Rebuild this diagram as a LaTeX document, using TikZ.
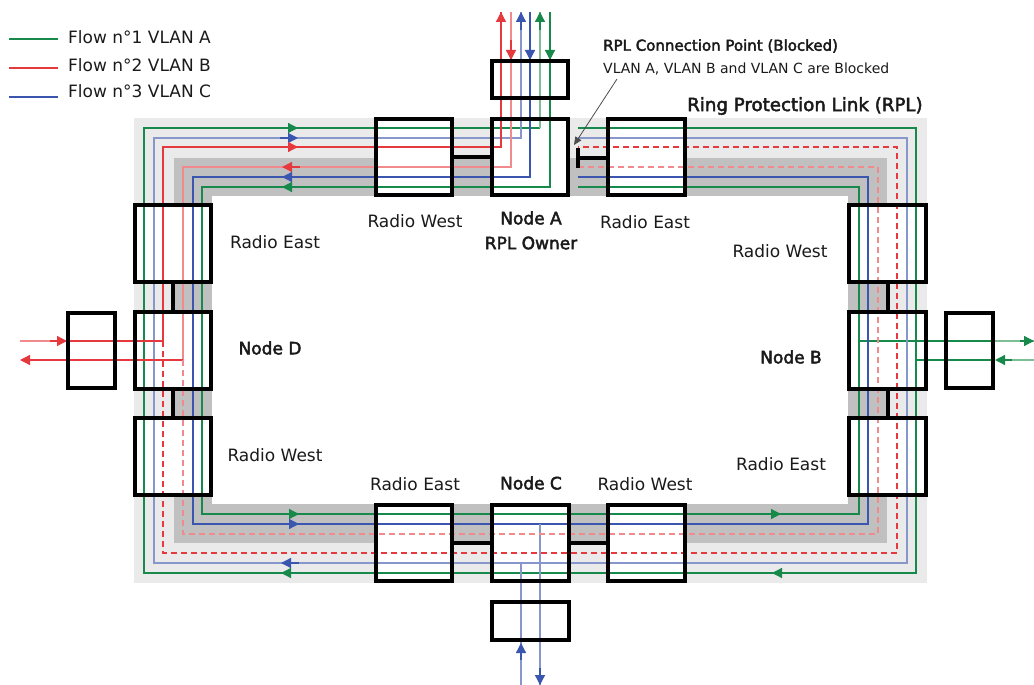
\documentclass[tikz,border=0pt]{standalone}
\usepackage{fontspec}
\setmainfont{DejaVu Sans}
\newfontfamily\sbfont[FakeBold=2.6]{DejaVu Sans}
\usetikzlibrary{arrows.meta}
\definecolor{gA}{HTML}{17894A}
\definecolor{gAl}{HTML}{7DBE95}
\definecolor{bC}{HTML}{3A56AE}
\definecolor{bCl}{HTML}{8797CC}
\definecolor{rB}{HTML}{E5393E}
\definecolor{rBl}{HTML}{F08A8D}
\definecolor{lg}{HTML}{EAEAEA}
\definecolor{dg}{HTML}{C0C0C0}
\definecolor{txt}{HTML}{1A1A1A}
\begin{document}
\begin{tikzpicture}[x=1pt,y=-1pt,
  lbl/.style={font=\fontsize{17}{20}\selectfont, inner sep=0, text=txt},
  nlbl/.style={font=\sbfont\fontsize{17}{20}\selectfont, inner sep=0, text=txt},
  bx/.style={fill=white, inner sep=0, minimum width=76pt, minimum height=76pt},
  bord/.style={draw=black, line width=4pt},
  conn/.style={draw=black, line width=4pt},
  ring/.style={line width=1.3pt},
  dsh/.style={dash pattern=on 6pt off 4pt},
  arr/.style={-{Triangle[length=10pt,width=10pt]}},
]
\useasboundingbox (0,0) rectangle (1034,685);
% bands
\fill[lg] (134,118) rectangle (927,583);
\fill[dg] (174,158) rectangle (887,543);
\fill[white] (212,196) rectangle (848,504);
% boxes (fills)
\node[bx] (rwt) at (414,157) {};
\node[bx] (na)  at (530,157) {};
\node[bx] (ret) at (646.5,157) {};
\node[bx,minimum height=37pt] (nat) at (530,79.5) {};
\node[bx] (rel) at (173,243.5) {};
\node[bx] (nd)  at (173,350.5) {};
\node[bx] (rwl) at (173,456.5) {};
\node[bx,minimum width=47pt,minimum height=75pt] (ndx) at (91.5,350.5) {};
\node[bx] (rwr) at (887.5,243.5) {};
\node[bx] (nb)  at (887.5,350.5) {};
\node[bx] (rer) at (887.5,456.5) {};
\node[bx,minimum width=47pt,minimum height=75pt] (nbx) at (969.5,350.5) {};
\node[bx] (reb) at (414,543) {};
\node[bx] (nc)  at (530.5,543) {};
\node[bx] (rwb) at (646.5,543) {};
\node[bx,minimum height=38pt] (ncb) at (530.5,621) {};
% ---- green (VLAN A)
\draw[ring,gA] (578,128) -- (916,128) -- (916,573) -- (144,573) -- (144,128) -- (540,128);
\draw[ring,gAl] (540,128) -- (540,12);
\draw[ring,gA,arr] (540,30) -- (540,12);
\draw[ring,gA] (550,12) -- (550,187) -- (202,187) -- (202,514) -- (859,514) -- (859,187) -- (578,187);
\draw[ring,gA,arr] (550,40) -- (550,60);
\draw[ring,gA] (859,341) -- (995,341);
\draw[ring,gAl] (995,341) -- (1034,341);
\draw[ring,gA,arr] (1020,341) -- (1034,341);
\draw[ring,gAl] (1034,360) -- (1003,360);
\draw[ring,gA,arr] (1012,360) -- (995,360);
\draw[ring,gA] (995,360) -- (916,360);
% ---- blue (VLAN C)
\draw[ring,bCl] (578,138) -- (907,138) -- (907,563) -- (154,563) -- (154,138) -- (521,138) -- (521,12);
\draw[ring,bC,arr] (521,30) -- (521,12);
\draw[ring,bC] (530,12) -- (530,177) -- (193,177) -- (193,524) -- (868,524) -- (868,177) -- (578,177);
\draw[ring,bC,arr] (530,40) -- (530,60);
\draw[ring,bCl] (521,685) -- (521,563);
\draw[ring,bC,arr] (521,660) -- (521,643);
\draw[ring,bCl] (540,524) -- (540,685);
\draw[ring,bC,arr] (540,668) -- (540,685);
% ---- red (VLAN B)
\draw[ring,rB] (501,12) -- (501,147) -- (163,147) -- (163,341);
\draw[ring,rB,arr] (501,30) -- (501,12);
\draw[ring,rB,dsh] (163,341) -- (163,553) -- (897,553) -- (897,147) -- (578,147);
\draw[ring,rBl] (20,341) -- (55,341);
\draw[ring,rB,arr] (50,341) -- (67,341);
\draw[ring,rB] (67,341) -- (163,341);
\draw[ring,rBl] (511,12) -- (511,167) -- (183,167) -- (183,360);
\draw[ring,rB,arr] (511,40) -- (511,60);
\draw[ring,rB,arr] (183,360) -- (20,360);
\draw[ring,rBl,dsh] (183,360) -- (183,534) -- (878,534) -- (878,167) -- (578,167);
% ---- ring arrows
\foreach \y/\c in {128/gA,138/bC,147/rB} \draw[ring,\c,arr] (280,\y) -- (298,\y);
\foreach \y/\c in {167/rB,177/bC,187/gA} \draw[ring,\c,arr] (300,\y) -- (282,\y);
\foreach \y/\c in {514/gA,524/bC} \draw[ring,\c,arr] (281,\y) -- (299,\y);
\foreach \y/\c in {563/bC,573/gA} \draw[ring,\c,arr] (299,\y) -- (281,\y);
\draw[ring,gA,arr] (763,514) -- (781,514);
\draw[ring,gA,arr] (790,573) -- (772,573);
% ---- borders
\foreach \n in {rwt,na,ret,nat,rel,nd,rwl,ndx,rwr,nb,rer,nbx,reb,nc,rwb,ncb}
  \draw[bord] (\n.south west) rectangle (\n.north east);
% ---- connectors
\draw[conn] (rwt.east) -- (na.west);
\coordinate (blk) at (578,158);
\draw[conn] (578,148) -- (578,168);
\draw[conn] (blk) -- (blk -| ret.west);
\draw[conn] (rel.south) -- (nd.north);
\draw[conn] (nd.south) -- (rwl.north);
\draw[conn] (rwr.south) -- (nb.north);
\draw[conn] (nb.south) -- (rer.north);
\draw[conn] (reb.east) -- (nc.west);
\draw[conn] (nc.east) -- (rwb.west);
% ---- labels
\node[lbl] (l1) at (415,221) {Radio West};
\node[nlbl] (l2) at (531,218) {Node A};
\node[nlbl] (l3) at (531,243) {RPL Owner};
\node[lbl] (l4) at (645,222) {Radio East};
\node[lbl] (l5) at (275,242) {Radio East};
\node[nlbl] (l6) at (270,348) {Node D};
\node[lbl] (l7) at (275,455) {Radio West};
\node[lbl] (l8) at (780,251) {Radio West};
\node[nlbl] (l9) at (791,357) {Node B};
\node[lbl] (l10) at (781,464) {Radio East};
\node[lbl] (l11) at (415,484) {Radio East};
\node[nlbl] (l12) at (531,483) {Node C};
\node[lbl] (l13) at (645,484) {Radio West};
\node[anchor=west, inner sep=0, text=txt, font=\sbfont\fontsize{15}{17}\selectfont] (rplt) at (603,46) {RPL Connection Point (Blocked)};
\node[anchor=west, inner sep=0, text=txt, font=\fontsize{14}{16}\selectfont] (rpls) at (603,69) {VLAN A, VLAN B and VLAN C are Blocked};
\node[anchor=west, inner sep=0, text=txt, font=\sbfont\fontsize{18.2}{20}\selectfont] (rpl) at (687,106) {Ring Protection Link (RPL)};
\coordinate (ptr) at (574,145);
\draw[gray!60!black, line width=0.8pt, -{Triangle[length=8pt,width=7pt]}] (617,79) -- (ptr);
% ---- legend
\draw[gA, line width=1.2pt] (9,39) -- (58,39);
\draw[rB, line width=1.2pt] (9,68) -- (58,68);
\draw[bC, line width=1.2pt] (9,97) -- (58,97);
\node[lbl, anchor=base west] (lg1) at (68,44) {Flow n°1 VLAN A};
\node[lbl, anchor=base west] (lg2) at (68,72) {Flow n°2 VLAN B};
\node[lbl, anchor=base west] (lg3) at (68,98) {Flow n°3 VLAN C};
\end{tikzpicture}
\end{document}
